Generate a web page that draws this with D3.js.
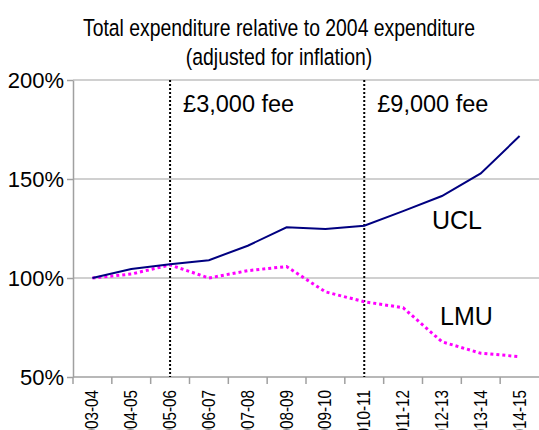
<!DOCTYPE html>
<html>
<head>
<meta charset="utf-8">
<script src="https://cdn.jsdelivr.net/npm/d3@7"></script>
<style>
  body { margin: 0; background: #fff; }
  text { font-family: "Liberation Sans", Arial, sans-serif; fill: #000; }
</style>
</head>
<body>
<svg id="chart"></svg>
<script>
// Chart data
const years = ['2003-04', '2004-05', '2005-06', '2006-07', '2007-08', '2008-09',
  '2009-10', '2010-11', '2011-12', '2012-13', '2013-14', '2014-15']
const ucl = [100, 104.5, 106.9, 109, 116.3, 125.6, 124.8, 126.4, 133.8, 141.4, 152.8, 171.7]
const lmu = [100, 102, 106.6, 100, 103.7, 105.8, 93, 88, 85, 67.8, 62, 60.3]
const yTicks = [50, 100, 150, 200]
const feeMarkers = [
  { year: '2005-06', label: '£3,000 fee' },
  { year: '2010-11', label: '£9,000 fee' }
]

const width = 539
const height = 430
const margin = { top: 80, right: 0, bottom: 53, left: 73 }

const svg = d3.select('#chart')
  .attr('width', width)
  .attr('height', height)

const x = d3.scaleBand()
  .domain(years)
  .range([margin.left, width - margin.right])

const y = d3.scaleLinear()
  .domain([50, 200])
  .range([height - margin.bottom, margin.top])

const cx = d => x(d) + x.bandwidth() / 2

// Gridlines
svg.append('g')
  .selectAll('line')
  .data(yTicks.slice(1))
  .join('line')
  .attr('x1', margin.left)
  .attr('x2', width - margin.right)
  .attr('y1', d => y(d))
  .attr('y2', d => y(d))
  .attr('stroke', '#c0c0c0')
  .attr('stroke-width', 1.5)

// Y axis
const yAxis = svg.append('g')
  .attr('transform', `translate(${margin.left},0)`)
  .call(d3.axisLeft(y).tickValues(yTicks).tickSize(6).tickSizeOuter(0).tickFormat(d => d + '%'))
yAxis.select('.domain').attr('stroke', '#a0a0a0').attr('stroke-width', 1.5)
yAxis.selectAll('.tick line').attr('stroke', '#a0a0a0').attr('stroke-width', 1.5)
yAxis.selectAll('.tick text')
  .attr('x', -9)
  .attr('dy', '0.36em')
  .style('font-size', '22px')
  .style('font-family', '"Liberation Sans", Arial, sans-serif')
  .attr('fill', '#000')

// X axis with ticks on band boundaries
const xAxis = svg.append('g')
  .attr('transform', `translate(0,${height - margin.bottom})`)
xAxis.append('line')
  .attr('x1', margin.left)
  .attr('x2', width - margin.right)
  .attr('stroke', '#a0a0a0')
  .attr('stroke-width', 1.5)
xAxis.selectAll('.tk')
  .data(years)
  .join('line')
  .attr('class', 'tk')
  .attr('x1', d => x(d))
  .attr('x2', d => x(d))
  .attr('y1', 0)
  .attr('y2', 7)
  .attr('stroke', '#a0a0a0')
  .attr('stroke-width', 1.5)
xAxis.selectAll('.lbl')
  .data(years)
  .join('text')
  .attr('class', 'lbl')
  .attr('transform', d => `translate(${cx(d) + 6},13) rotate(-90) scale(0.85,1)`)
  .attr('text-anchor', 'end')
  .style('font-size', '18px')
  .text(d => d)

// Fee markers
const fees = svg.append('g')
fees.selectAll('line')
  .data(feeMarkers)
  .join('line')
  .attr('x1', d => cx(d.year))
  .attr('x2', d => cx(d.year))
  .attr('y1', y(200))
  .attr('y2', y(50))
  .attr('stroke', '#000')
  .attr('stroke-width', 2)
  .attr('stroke-dasharray', '2,2')
fees.selectAll('text')
  .data(feeMarkers)
  .join('text')
  .attr('x', d => cx(d.year) + 13)
  .attr('y', 112)
  .style('font-size', '23.5px')
  .text(d => d.label)

// Series lines
const line = d3.line()
  .x((d, i) => cx(years[i]))
  .y(d => y(d))

svg.append('path')
  .datum(lmu)
  .attr('d', line)
  .attr('fill', 'none')
  .attr('stroke', '#ff00ff')
  .attr('stroke-width', 3)
  .attr('stroke-dasharray', '3,3')

svg.append('path')
  .datum(ucl)
  .attr('d', line)
  .attr('fill', 'none')
  .attr('stroke', '#000080')
  .attr('stroke-width', 2)

// Series labels
svg.append('text')
  .attr('x', 432)
  .attr('y', 229)
  .style('font-size', '25px')
  .text('UCL')
svg.append('text')
  .attr('x', 440)
  .attr('y', 325)
  .style('font-size', '25px')
  .text('LMU')

// Title, narrow face emulated by horizontal squeeze
const title = svg.append('text')
  .attr('text-anchor', 'middle')
  .attr('transform', 'translate(279,0) scale(0.825,1)')
  .style('font-size', '23.5px')
title.append('tspan').attr('x', 0).attr('y', 36).text('Total expenditure relative to 2004 expenditure')
title.append('tspan').attr('x', 0).attr('y', 65).text('(adjusted for inflation)')
</script>
</body>
</html>
